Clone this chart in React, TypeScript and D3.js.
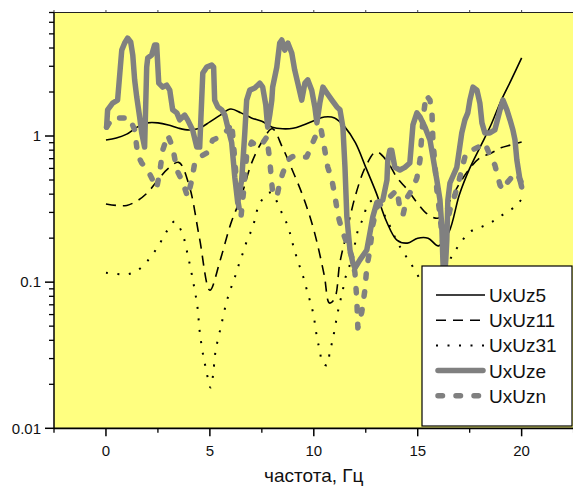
import React from "react";
import * as d3 from "d3";

// ---------- data ----------
const f5 = [0, 0.5, 1, 1.5, 2, 2.5, 3, 3.5, 4, 4.5, 5, 5.5, 6, 6.5, 7, 7.5, 8, 8.5, 9, 9.5, 10, 10.5, 11, 11.5, 12, 12.5, 13, 13.5, 14, 14.5, 15, 15.5, 16, 16.5, 17, 17.5, 18, 18.5, 19, 19.5, 20];
const uxuz5 = [0.94, 0.97, 1.03, 1.15, 1.23, 1.23, 1.19, 1.13, 1.1, 1.13, 1.25, 1.39, 1.53, 1.44, 1.33, 1.26, 1.15, 1.12, 1.13, 1.19, 1.27, 1.35, 1.33, 1.15, 0.9, 0.61, 0.41, 0.26, 0.194, 0.185, 0.2, 0.2, 0.177, 0.22, 0.395, 0.6, 0.84, 1.17, 1.73, 2.42, 3.42];

const f11 = [0, 0.5, 1, 1.5, 2, 2.5, 3, 3.5, 4, 4.5, 5, 5.5, 6, 6.5, 7, 7.5, 8, 8.5, 9, 9.5, 10, 10.5, 10.75, 11, 11.25, 11.5, 12, 12.5, 13, 13.5, 14, 14.5, 15, 15.5, 16, 16.5, 17, 17.5, 18, 18.5, 19, 19.5, 20];
const uxuz11 = [0.343, 0.335, 0.335, 0.36, 0.41, 0.5, 0.6, 0.66, 0.46, 0.2, 0.088, 0.142, 0.25, 0.383, 0.65, 0.91, 1.12, 0.83, 0.57, 0.38, 0.228, 0.112, 0.072, 0.077, 0.135, 0.194, 0.39, 0.62, 0.78, 0.68, 0.52, 0.43, 0.345, 0.29, 0.275, 0.35, 0.47, 0.6, 0.71, 0.76, 0.83, 0.87, 0.91];

const f31 = [0, 0.5, 1, 1.5, 2, 2.5, 2.9, 3.3, 3.65, 3.95, 4.2, 4.4, 4.51, 4.67, 4.8, 5.03, 5.15, 5.27, 5.55, 5.8, 6.0, 6.2, 6.4, 6.6, 6.8, 7.05, 7.4, 7.9, 8.5, 8.76, 8.93, 9.09, 9.29, 9.49, 9.65, 9.81, 9.97, 10.16, 10.29, 10.42, 10.64, 10.77, 10.9, 11.01, 11.12, 11.25, 11.38, 11.51, 11.7, 11.89, 12.13, 12.38, 12.61, 12.93, 13.5, 14.0, 14.4, 14.8, 15.3, 15.8, 16.2, 16.6, 17.0, 17.5, 18.1, 18.6, 19.1, 19.7, 20];
const uxuz31 = [0.116, 0.114, 0.113, 0.12, 0.14, 0.175, 0.22, 0.26, 0.22, 0.15, 0.1, 0.068, 0.046, 0.032, 0.026, 0.019, 0.023, 0.0335, 0.051, 0.073, 0.09, 0.108, 0.133, 0.16, 0.195, 0.235, 0.345, 0.41, 0.29, 0.24, 0.196, 0.162, 0.132, 0.109, 0.09, 0.075, 0.0613, 0.0413, 0.034, 0.028, 0.027, 0.0335, 0.0398, 0.048, 0.059, 0.072, 0.086, 0.106, 0.127, 0.157, 0.228, 0.274, 0.343, 0.365, 0.27, 0.19, 0.153, 0.125, 0.095, 0.08, 0.1, 0.147, 0.18, 0.22, 0.24, 0.26, 0.29, 0.33, 0.37];

const fe = [0.03, 0.08, 0.32, 0.56, 0.76, 0.9, 1.04, 1.19, 1.29, 1.38, 1.48, 1.62, 1.72, 1.86, 1.96, 2.01, 2.2, 2.34, 2.44, 2.54, 2.73, 2.92, 3.07, 3.21, 3.41, 3.55, 3.79, 3.93, 4.17, 4.37, 4.51, 4.66, 4.85, 5.09, 5.18, 5.23, 5.38, 5.57, 5.72, 5.86, 6.05, 6.2, 6.34, 6.53, 6.68, 6.77, 6.92, 7.16, 7.4, 7.54, 7.69, 7.78, 7.88, 7.98, 8.02, 8.22, 8.36, 8.46, 8.6, 8.75, 8.94, 9.08, 9.23, 9.42, 9.57, 9.71, 9.9, 10.05, 10.15, 10.29, 10.44, 10.63, 10.87, 11.11, 11.26, 11.4, 11.5, 11.59, 11.74, 11.88, 11.98, 12.22, 12.55, 12.7, 12.84, 13.03, 13.32, 13.52, 13.56, 13.66, 13.75, 13.9, 14.14, 14.38, 14.62, 14.77, 14.96, 15.11, 15.35, 15.59, 15.73, 15.92, 16.07, 16.16, 16.21, 16.26, 16.35, 16.4, 16.45, 16.55, 16.88, 17.12, 17.27, 17.41, 17.51, 17.66, 17.85, 17.99, 18.09, 18.23, 18.47, 18.71, 18.96, 19.1, 19.29, 19.44, 19.58, 19.68, 19.77, 19.92, 20];
const uxuze = [1.15, 1.51, 1.68, 1.76, 3.87, 4.33, 4.68, 4.4, 3.58, 2.42, 1.85, 1.35, 1.05, 0.84, 2.96, 3.42, 3.58, 4.19, 4.19, 2.3, 2.16, 2.23, 2.06, 1.51, 1.44, 1.29, 1.39, 1.29, 1.1, 0.84, 0.84, 2.7, 2.96, 3.06, 2.96, 1.76, 1.58, 1.51, 1.39, 1.15, 0.9, 0.52, 0.35, 0.5, 1.05, 1.76, 2.06, 2.13, 2.3, 2.16, 1.63, 1.15, 1.39, 1.76, 2.16, 2.96, 4.33, 4.54, 3.87, 4.33, 3.7, 2.83, 2.3, 1.76, 2.3, 2.42, 2.06, 1.58, 1.23, 1.68, 2.16, 1.97, 1.76, 1.58, 1.51, 1.15, 0.61, 0.28, 0.166, 0.135, 0.125, 0.142, 0.166, 0.217, 0.28, 0.35, 0.365, 0.5, 0.685, 0.8, 0.8, 0.61, 0.585, 0.61, 0.654, 1.19, 1.44, 1.35, 1.15, 0.94, 0.72, 0.5, 0.365, 0.239, 0.142, 0.096, 0.142, 0.194, 0.365, 0.477, 0.61, 1.05, 1.29, 1.44, 1.76, 2.16, 2.06, 1.68, 1.23, 1.05, 1.05, 1.1, 1.51, 1.76, 1.51, 1.29, 1.1, 0.94, 0.685, 0.5, 0.448];

const fn = [0.03, 0.32, 0.66, 1.14, 1.38, 1.53, 1.72, 2.01, 2.2, 2.44, 2.59, 2.73, 2.97, 3.21, 3.41, 3.69, 3.93, 4.13, 4.27, 4.51, 4.85, 5.14, 5.47, 5.86, 6.05, 6.2, 6.34, 6.49, 6.63, 6.77, 7.01, 7.3, 7.54, 7.74, 7.88, 8.02, 8.22, 8.36, 8.51, 8.75, 8.94, 9.18, 9.42, 9.66, 9.9, 10.15, 10.34, 10.53, 10.67, 10.87, 11.01, 11.16, 11.35, 11.59, 11.83, 11.98, 12.07, 12.12, 12.31, 12.46, 12.55, 12.7, 12.84, 13.03, 13.32, 13.66, 14.0, 14.14, 14.29, 14.48, 14.77, 14.96, 15.11, 15.25, 15.4, 15.59, 15.69, 15.73, 15.83, 15.92, 16.07, 16.21, 16.35, 16.55, 16.79, 17.03, 17.17, 17.32, 17.61, 17.9, 18.23, 18.47, 18.71, 18.96, 19.1, 19.29, 19.53, 19.77, 20];
const uxuzn = [1.15, 1.33, 1.33, 1.33, 1.1, 0.74, 0.654, 0.585, 0.516, 0.441, 0.567, 0.8, 1.016, 0.84, 0.585, 0.485, 0.383, 0.5, 0.654, 0.718, 0.765, 0.939, 0.984, 1.1, 1.23, 0.685, 0.365, 0.275, 0.428, 0.741, 0.91, 0.84, 0.896, 0.984, 0.685, 0.408, 0.383, 0.477, 0.558, 0.685, 0.718, 0.741, 0.718, 0.718, 0.868, 1.05, 1.13, 0.8, 0.614, 0.5, 0.395, 0.288, 0.228, 0.185, 0.149, 0.116, 0.0755, 0.0486, 0.0625, 0.0885, 0.127, 0.166, 0.246, 0.327, 0.348, 0.383, 0.428, 0.322, 0.288, 0.377, 0.441, 0.516, 0.685, 1.29, 1.91, 1.76, 1.39, 0.94, 0.634, 0.428, 0.288, 0.18, 0.228, 0.312, 0.395, 0.524, 0.634, 0.765, 0.8, 0.84, 0.896, 0.741, 0.634, 0.462, 0.428, 0.477, 0.524, 0.558, 0.477];

const legendLabels = ["UxUz5", "UxUz11", "UxUz31", "UxUze", "UxUzn"];
const xMajorTicks = [0, 5, 10, 15, 20];
const yMajorTicks = [0.01, 0.1, 1];
const yTickLabels = ["0.01", "0.1", "1"];
const xTitle = "частота, Гц";

type Style = { stroke: string; width: number; dash?: string; cap: "butt" | "round"; curve: any };

const styles: Style[] = [
  { stroke: "#000", width: 1.6, cap: "butt", curve: d3.curveCatmullRom },
  { stroke: "#000", width: 1.6, dash: "10,7", cap: "butt", curve: d3.curveCatmullRom },
  { stroke: "#000", width: 2, dash: "2,9.5", cap: "butt", curve: d3.curveCatmullRom },
  { stroke: "#808080", width: 5.5, cap: "round", curve: d3.curveLinear },
  { stroke: "#808080", width: 5.5, dash: "4.5,13.5", cap: "round", curve: d3.curveLinear },
];

export default function App() {
  const W = 573, H = 486;
  const left = 54, right = 573.6, top = 12.5, bottom = 428.3;
  const x = d3.scaleLinear().domain([-2.5, 22.5]).range([left, right]);
  const y = d3.scaleLog().domain([0.01, 7]).range([bottom, top]);

  const data: [number[], number[]][] = [
    [f5, uxuz5],
    [f11, uxuz11],
    [f31, uxuz31],
    [fe, uxuze],
    [fn, uxuzn],
  ];

  const paths = data.map(([fs, vs], i) => {
    const pts: [number, number][] = fs.map((f, k) => [x(f), y(vs[k])]);
    return d3.line().curve(styles[i].curve)(pts) || "";
  });

  const xMinor: number[] = [];
  for (let v = -2.5; v <= 22.5; v += 2.5) if (!xMajorTicks.includes(v)) xMinor.push(v);
  const yMinor: number[] = [];
  [0.01, 0.1, 1].forEach((d) => {
    for (let m = 2; m <= 9; m++) if (d * m <= 7.001) yMinor.push(d * m);
  });
  const topTicks: number[] = [];
  for (let v = -2.5; v <= 22.5; v += 2.5) topTicks.push(v);

  const font = "'Liberation Sans', Arial, sans-serif";
  const lg = { x: 422, y: 266, w: 150, h: 160 };

  return (
    <svg width={W} height={H} style={{ position: "absolute", left: 0, top: 0, background: "#fff" }}>
      <defs>
        <clipPath id="plotclip">
          <rect x={left} y={top} width={right - left} height={bottom - top} />
        </clipPath>
      </defs>
      <rect x={left} y={top} width={right - left} height={bottom - top} fill="#FFFF80" />
      <g clipPath="url(#plotclip)" fill="none">
        {paths.map((d, i) => (
          <path
            key={i}
            d={d}
            stroke={styles[i].stroke}
            strokeWidth={styles[i].width}
            strokeDasharray={styles[i].dash}
            strokeLinecap={styles[i].cap}
            strokeLinejoin="round"
          />
        ))}
      </g>
      {/* frame */}
      <line x1={left} x2={right} y1={top} y2={top} stroke="#222" strokeWidth={1} />
      <line x1={left} x2={left} y1={top} y2={bottom} stroke="#000" strokeWidth={1.5} />
      <line x1={left} x2={right} y1={bottom} y2={bottom} stroke="#000" strokeWidth={1.8} />
      {topTicks.map((t) => (
        <line key={"tt" + t} x1={x(t)} x2={x(t)} y1={top} y2={top - 2.5} stroke="#444" strokeWidth={1} />
      ))}
      {/* x ticks */}
      {xMajorTicks.map((t) => (
        <g key={"xm" + t}>
          <line x1={x(t)} x2={x(t)} y1={bottom} y2={bottom + 8} stroke="#000" strokeWidth={1.5} />
          <text x={x(t)} y={456} textAnchor="middle" fontFamily={font} fontSize={15} fill="#111">
            {t}
          </text>
        </g>
      ))}
      {xMinor.map((t) => (
        <line key={"xn" + t} x1={x(t)} x2={x(t)} y1={bottom} y2={bottom + 4.5} stroke="#000" strokeWidth={1.3} />
      ))}
      {/* y ticks */}
      {yMajorTicks.map((t, i) => (
        <g key={"ym" + t}>
          <line x1={left - 9} x2={left} y1={y(t)} y2={y(t)} stroke="#000" strokeWidth={1.5} />
          <text x={41} y={y(t) + 5.3} textAnchor="end" fontFamily={font} fontSize={15} fill="#111">
            {yTickLabels[i]}
          </text>
        </g>
      ))}
      {yMinor.map((t) => (
        <line key={"yn" + t} x1={left - 5} x2={left} y1={y(t)} y2={y(t)} stroke="#000" strokeWidth={1.3} />
      ))}
      <text x={(left + right) / 2} y={482} textAnchor="middle" fontFamily={font} fontSize={19} fill="#111">
        {xTitle}
      </text>
      {/* legend */}
      <rect x={lg.x} y={lg.y} width={lg.w} height={lg.h} fill="#fff" stroke="#000" strokeWidth={1.2} />
      {legendLabels.map((lab, i) => {
        const cy = 295 + i * 25.2;
        const s = styles[i];
        return (
          <g key={lab}>
            <line
              x1={s.cap === "round" ? 438 : 436}
              x2={s.cap === "round" ? 483 : 485}
              y1={cy}
              y2={cy}
              stroke={s.stroke}
              strokeWidth={s.width}
              strokeDasharray={s.dash}
              strokeLinecap={s.cap}
            />
            <text x={489} y={cy + 7} fontFamily={font} fontSize={19} fill="#111">
              {lab}
            </text>
          </g>
        );
      })}
    </svg>
  );
}
